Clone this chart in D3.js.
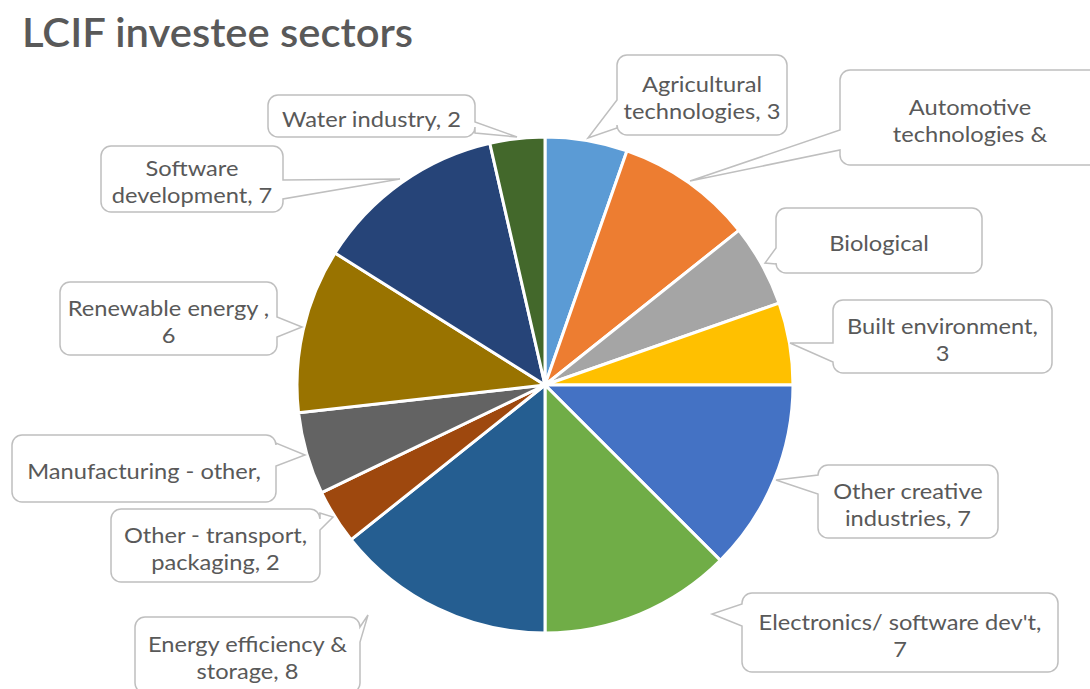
<!DOCTYPE html>
<html><head><meta charset="utf-8">
<script src="https://cdn.jsdelivr.net/npm/d3@7"></script>
<style>
html,body{margin:0;padding:0;background:#fff;}
svg{display:block;}
</style></head>
<body>
<svg id="chart" width="1090" height="689"></svg>
<script>
// ---- data ----
const categories = ["Agricultural technologies","Automotive technologies","Biological","Built environment","Other creative industries","Electronics/ software dev't","Energy efficiency & storage","Other - transport, packaging","Manufacturing - other","Renewable energy","Software development","Water industry"];
const values = [3,5,3,3,7,7,8,2,3,6,7,2];
const colors = ["#5B9BD5","#ED7D31","#A5A5A5","#FFC000","#4472C4","#70AD47","#255E91","#9E480E","#636363","#997300","#264478","#43682B"];
const labelLines = [
  ["Agricultural","technologies, 3"],
  ["Automotive","technologies &"],
  ["Biological"],
  ["Built environment,","3"],
  ["Other creative","industries, 7"],
  ["Electronics/ software dev't,","7"],
  ["Energy efficiency &","storage, 8"],
  ["Other - transport,","packaging, 2"],
  ["Manufacturing - other,"],
  ["Renewable energy ,","6"],
  ["Software","development, 7"],
  ["Water industry, 2"]
];
const title = "LCIF investee sectors";

// ---- layout of callouts (box x,y,w,h ; side of wedge ; base a0,a1 ; tip) ----
const callouts = [
  {x:617,y:55,w:170,h:80,side:"left",a0:100,a1:128,tx:588,ty:138},
  {x:840,y:70,w:260,h:95,side:"left",a0:130,a1:150,tx:690,ty:181},
  {x:776,y:208,w:206,h:65,side:"left",a0:248,a1:264,tx:765,ty:263},
  {x:833,y:300,w:219,h:73,side:"left",a0:343,a1:362,tx:790,ty:343},
  {x:818,y:465,w:180,h:73,side:"left",a0:475,a1:494,tx:776,ty:480},
  {x:742,y:593,w:316,h:79,side:"left",a0:604,a1:626,tx:712,ty:614},
  {x:135,y:617,w:225,h:76,side:"right",a0:627,a1:642,tx:368,ty:615},
  {x:111,y:509,w:209,h:73,side:"right",a0:513,a1:530,tx:333,ty:517},
  {x:12,y:435,w:264,h:67,side:"right",a0:443,a1:466,tx:305,ty:455},
  {x:60,y:282,w:217,h:73,side:"right",a0:317,a1:337,tx:302,ty:327},
  {x:101,y:146,w:182,h:66,side:"right",a0:180,a1:199,tx:400,ty:179},
  {x:268,y:95,w:207,h:42,side:"right",a0:122,a1:133,tx:517,ty:137}
];

const svg = d3.select("#chart");
const cx = 545, cy = 385, R = 248;

svg.append("text")
  .attr("x", 22).attr("y", 47)
  .attr("font-family","Lato, 'Open Sans', sans-serif")
  .attr("font-size", 40).attr("font-weight", 600)
  .attr("fill", "#595959")
  .attr("transform","translate(22,0) scale(1.045,1) translate(-22,0)")
  .text(title);

const pie = d3.pie().sort(null).value(d => d);
const arc = d3.arc().innerRadius(0).outerRadius(R);
const g = svg.append("g").attr("transform", `translate(${cx},${cy})`);
g.selectAll("path.slice").data(pie(values)).join("path")
  .attr("class","slice")
  .attr("d", arc)
  .attr("fill", (d,i) => colors[i])
  .attr("stroke", "#fff").attr("stroke-width", 3).attr("stroke-linejoin","round");

function calloutPath(c){
  const r = 10, {x,y,w,h} = c;
  const p = d3.path();
  p.moveTo(x+r, y);
  if (c.side==="top"){ p.lineTo(c.a0,y); p.lineTo(c.tx,c.ty); p.lineTo(c.a1,y); }
  p.lineTo(x+w-r, y);
  p.arcTo(x+w, y, x+w, y+r, r);
  if (c.side==="right"){ p.lineTo(x+w,c.a0); p.lineTo(c.tx,c.ty); p.lineTo(x+w,c.a1); }
  p.lineTo(x+w, y+h-r);
  p.arcTo(x+w, y+h, x+w-r, y+h, r);
  if (c.side==="bottom"){ p.lineTo(c.a1,y+h); p.lineTo(c.tx,c.ty); p.lineTo(c.a0,y+h); }
  p.lineTo(x+r, y+h);
  p.arcTo(x, y+h, x, y+h-r, r);
  if (c.side==="left"){ p.lineTo(x,c.a1); p.lineTo(c.tx,c.ty); p.lineTo(x,c.a0); }
  p.lineTo(x, y+r);
  p.arcTo(x, y, x+r, y, r);
  p.closePath();
  return p.toString();
}

const lg = svg.append("g");
callouts.forEach((c,i) => {
  lg.append("path").attr("d", calloutPath(c))
    .attr("fill","#fff").attr("stroke","#BFBFBF").attr("stroke-width",1.5);
  const lines = labelLines[i];
  const lh = 27;
  const midX = c.x + c.w/2;
  const midY = c.y + c.h/2 + 3;
  const startY = midY - (lines.length-1)*lh/2;
  const t = lg.append("text")
    .attr("font-family","Lato, 'Open Sans', sans-serif")
    .attr("font-size", 21.5)
    .attr("fill","#595959")
    .attr("text-anchor","middle")
    .attr("transform", `translate(${midX},0) scale(1.1,1) translate(${-midX},0)`);
  lines.forEach((ln,j) => {
    t.append("tspan").attr("x", midX).attr("y", startY + j*lh).attr("dy","0.35em").text(ln);
  });
});
</script>
</body></html>
